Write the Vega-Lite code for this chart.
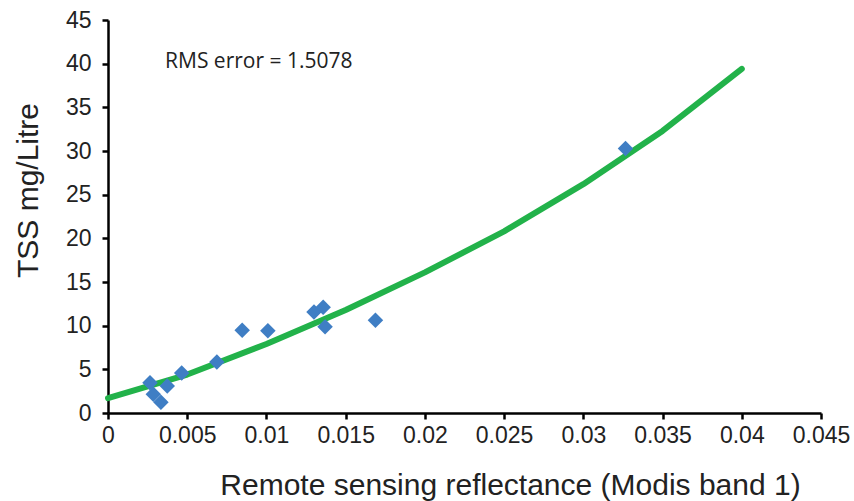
{
  "$schema": "https://vega.github.io/schema/vega-lite/v6.json",
  "autosize": "none",
  "width": 713,
  "height": 393,
  "padding": {"left": 108, "top": 20, "right": 33, "bottom": 88},
  "background": "white",
  "config": {"view": {"stroke": null}, "axis": {"grid": false}},
  "datasets": {
    "obs": [
      {"reflectance": 0.00265, "tss": 3.45},
      {"reflectance": 0.00286, "tss": 2.14},
      {"reflectance": 0.00334, "tss": 1.22},
      {"reflectance": 0.00374, "tss": 3.09},
      {"reflectance": 0.00465, "tss": 4.58},
      {"reflectance": 0.00687, "tss": 5.84},
      {"reflectance": 0.00847, "tss": 9.47},
      {"reflectance": 0.01009, "tss": 9.43},
      {"reflectance": 0.0130, "tss": 11.57},
      {"reflectance": 0.01358, "tss": 12.1},
      {"reflectance": 0.0137, "tss": 9.88},
      {"reflectance": 0.01688, "tss": 10.61},
      {"reflectance": 0.03266, "tss": 30.3}
    ],
    "fit": [
      {"reflectance": 0.0, "tss": 1.7},
      {"reflectance": 0.005, "tss": 4.4},
      {"reflectance": 0.01, "tss": 7.9},
      {"reflectance": 0.015, "tss": 11.8},
      {"reflectance": 0.02, "tss": 16.1},
      {"reflectance": 0.025, "tss": 20.8},
      {"reflectance": 0.03, "tss": 26.2},
      {"reflectance": 0.035, "tss": 32.3},
      {"reflectance": 0.04, "tss": 39.4}
    ],
    "note": [
      {"reflectance": 0.0036, "tss": 40.2, "label": "RMS error = 1.5078"}
    ]
  },
  "layer": [
    {
      "data": {"name": "fit"},
      "mark": {"type": "line", "color": "#22b24a", "strokeWidth": 6, "strokeCap": "round", "strokeJoin": "round"},
      "encoding": {
        "x": {
          "field": "reflectance", "type": "quantitative",
          "scale": {"domain": [0, 0.045], "nice": false, "zero": false},
          "axis": {
            "title": "Remote sensing reflectance (Modis band 1)",
            "values": [0, 0.005, 0.01, 0.015, 0.02, 0.025, 0.03, 0.035, 0.04, 0.045],
            "format": "~g",
            "domainColor": "black", "domainWidth": 2.5,
            "tickColor": "black", "tickWidth": 2.5, "tickSize": 6,
            "labelFont": "Liberation Sans", "labelFontSize": 23, "labelColor": "#222",
            "labelPadding": 5, "labelFlush": false, "labelOverlap": false,
            "titleFont": "Liberation Sans", "titleFontSize": 30, "titleFontWeight": "normal", "titleColor": "#222",
            "titleX": 402, "titleY": 81, "titleAlign": "center", "titleBaseline": "alphabetic"
          }
        },
        "y": {
          "field": "tss", "type": "quantitative",
          "scale": {"domain": [0, 45], "nice": false},
          "axis": {
            "title": "TSS mg/Litre",
            "values": [0, 5, 10, 15, 20, 25, 30, 35, 40, 45],
            "domainColor": "black", "domainWidth": 2.5,
            "tickColor": "black", "tickWidth": 2.5, "tickSize": 6,
            "labelFont": "Liberation Sans", "labelFontSize": 23, "labelColor": "#222",
            "labelPadding": 11, "labelFlush": false, "labelOverlap": false,
            "titleFont": "Liberation Sans", "titleFontSize": 30, "titleFontWeight": "normal", "titleColor": "#222",
            "titleX": -80, "titleY": 170, "titleAlign": "center", "titleBaseline": "middle", "titleAngle": -90
          }
        }
      }
    },
    {
      "data": {"name": "obs"},
      "mark": {"type": "point", "shape": "diamond", "filled": true, "size": 240, "color": "#3f7ec4", "opacity": 1},
      "encoding": {
        "x": {"field": "reflectance", "type": "quantitative"},
        "y": {"field": "tss", "type": "quantitative"}
      }
    },
    {
      "data": {"name": "note"},
      "mark": {"type": "text", "align": "left", "baseline": "middle", "font": "Open Sans", "fontSize": 21, "color": "#222"},
      "encoding": {
        "x": {"field": "reflectance", "type": "quantitative"},
        "y": {"field": "tss", "type": "quantitative"},
        "text": {"field": "label"}
      }
    }
  ]
}
